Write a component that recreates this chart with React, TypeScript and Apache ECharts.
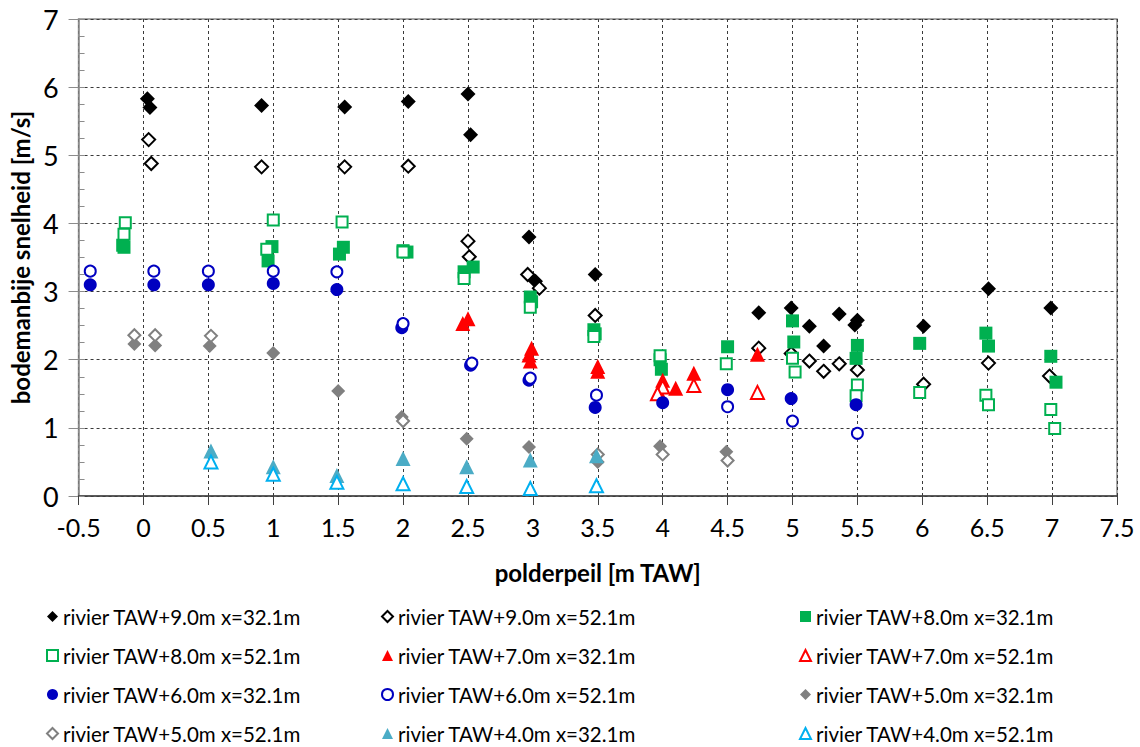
import React, { useEffect, useRef } from "react";
import * as echarts from "echarts";

const xTicks = { min: -0.5, max: 7.5, interval: 0.5 };
const yTicks = { min: 0, max: 7, interval: 1 };

const names = [
  "rivier TAW+9.0m x=32.1m",
  "rivier TAW+9.0m x=52.1m",
  "rivier TAW+8.0m x=32.1m",
  "rivier TAW+8.0m x=52.1m",
  "rivier TAW+7.0m x=32.1m",
  "rivier TAW+7.0m x=52.1m",
  "rivier TAW+6.0m x=32.1m",
  "rivier TAW+6.0m x=52.1m",
  "rivier TAW+5.0m x=32.1m",
  "rivier TAW+5.0m x=52.1m",
  "rivier TAW+4.0m x=32.1m",
  "rivier TAW+4.0m x=52.1m",
];

const s9_32 = [[0.03,5.83],[0.05,5.70],[0.91,5.73],[1.55,5.71],[2.04,5.79],[2.50,5.90],[2.52,5.30],[2.97,3.80],[3.02,3.15],[3.48,3.25],[4.74,2.69],[4.99,2.76],[5.13,2.49],[5.24,2.20],[5.36,2.67],[5.50,2.58],[5.48,2.51],[6.01,2.49],[6.51,3.04],[6.99,2.76]];
const s9_52 = [[0.04,5.23],[0.06,4.88],[0.91,4.83],[1.55,4.83],[2.04,4.84],[2.50,3.74],[2.51,3.51],[2.96,3.25],[3.05,3.05],[3.48,2.65],[4.74,2.17],[4.99,2.09],[5.13,1.98],[5.24,1.83],[5.36,1.94],[5.50,1.85],[6.01,1.64],[6.51,1.95],[6.98,1.76]];
const s8_32 = [[-0.16,3.68],[-0.15,3.65],[0.96,3.45],[0.99,3.66],[1.51,3.55],[1.54,3.65],[2.0,3.60],[2.03,3.58],[2.47,3.29],[2.54,3.36],[2.98,2.92],[2.99,2.85],[3.47,2.44],[3.48,2.38],[3.98,2.00],[3.99,1.86],[4.50,2.19],[5.00,2.57],[5.01,2.26],[5.50,2.21],[5.49,2.02],[5.98,2.24],[6.49,2.39],[6.51,2.20],[6.99,2.05],[7.03,1.67]];
const s8_52 = [[-0.14,4.01],[-0.15,3.84],[1.0,4.05],[0.95,3.62],[1.53,4.02],[2.0,3.58],[2.47,3.19],[2.98,2.77],[3.47,2.34],[3.98,2.06],[4.49,1.94],[5.0,2.02],[5.02,1.82],[5.50,1.63],[5.49,1.47],[5.98,1.52],[6.49,1.48],[6.51,1.34],[6.99,1.27],[7.02,0.99]];
const s7_32 = [[2.50,2.60],[2.46,2.53],[2.99,2.17],[2.97,2.07],[2.98,1.98],[3.50,1.90],[3.50,1.83],[4.0,1.70],[3.97,1.53],[4.10,1.58],[4.24,1.80],[4.73,2.08]];
const s7_52 = [[4.0,1.60],[3.96,1.50],[4.24,1.62],[4.73,1.52]];
const s6_32 = [[-0.41,3.10],[0.08,3.10],[0.50,3.10],[1.0,3.12],[1.49,3.03],[1.99,2.47],[2.52,1.92],[2.97,1.70],[3.48,1.30],[4.0,1.37],[4.50,1.56],[4.99,1.43],[5.49,1.34]];
const s6_52 = [[-0.41,3.30],[0.08,3.30],[0.50,3.30],[1.0,3.30],[1.49,3.29],[2.0,2.53],[2.53,1.95],[2.98,1.73],[3.49,1.48],[4.5,1.31],[5.0,1.10],[5.5,0.92]];
const s5_32 = [[-0.07,2.23],[0.09,2.21],[0.51,2.20],[1.0,2.10],[1.50,1.54],[1.99,1.16],[2.49,0.84],[2.97,0.72],[3.50,0.50],[3.98,0.73],[4.49,0.65]];
const s5_52 = [[-0.07,2.36],[0.09,2.36],[0.52,2.35],[2.0,1.10],[3.50,0.61],[4.0,0.61],[4.5,0.52]];
const s4_32 = [[0.52,0.66],[1.0,0.43],[1.49,0.30],[2.0,0.55],[2.49,0.43],[2.98,0.53],[3.49,0.59]];
const s4_52 = [[0.52,0.50],[1.0,0.32],[1.49,0.20],[2.0,0.18],[2.49,0.14],[2.98,0.11],[3.49,0.15]];

const seriesData = [s9_32, s9_52, s8_32, s8_52, s7_32, s7_52, s6_32, s6_52, s5_32, s5_52, s4_32, s4_52];

const styles = [
  { symbol: "diamond", color: "#000000", filled: true, size: 15 },
  { symbol: "diamond", color: "#000000", filled: false, size: 13 },
  { symbol: "rect", color: "#00B050", filled: true, size: 13 },
  { symbol: "rect", color: "#00B050", filled: false, size: 11 },
  { symbol: "triangle", color: "#FF0000", filled: true, size: 15 },
  { symbol: "triangle", color: "#FF0000", filled: false, size: 13 },
  { symbol: "circle", color: "#0000C0", filled: true, size: 13 },
  { symbol: "circle", color: "#0000C0", filled: false, size: 11 },
  { symbol: "diamond", color: "#808080", filled: true, size: 14 },
  { symbol: "diamond", color: "#808080", filled: false, size: 12 },
  { symbol: "triangle", color: "#4BACC6", filled: true, size: 15 },
  { symbol: "triangle", color: "#00B0F0", filled: false, size: 13 },
];

const FONT = "Lato, 'Noto Sans', sans-serif";

export default function App() {
  const ref = useRef<HTMLDivElement>(null);
  useEffect(() => {
    document.body.style.margin = "0";
    const chart = echarts.init(ref.current!, null, { renderer: "svg" });
    const series = seriesData.map((d, i) => {
      const st = styles[i];
      return {
        name: names[i],
        type: "scatter",
        data: d,
        symbol: st.symbol,
        symbolSize: st.size,
        itemStyle: st.filled
          ? { color: st.color, opacity: 1 }
          : { color: "#ffffff", borderColor: st.color, borderWidth: 2, opacity: 1 },
        z: 3 + i,
      };
    });
    const legendCols = [0, 1, 2].map((c) => ({
      show: true,
      orient: "vertical",
      left: [46, 381, 799][c],
      top: 606,
      padding: 0,
      itemGap: 18,
      itemWidth: 11,
      itemHeight: 11,
      textStyle: { fontFamily: FONT, fontSize: 20.5, color: "#000" },
      data: [0, 1, 2, 3].map((r) => names[r * 3 + c]),
    }));
    chart.setOption({
      animation: false,
      backgroundColor: "#ffffff",
      textStyle: { fontFamily: FONT },
      grid: {
        left: 77,
        right: 23,
        top: 19,
        bottom: 251,
        show: true,
        borderColor: "#8c8c8c",
        borderWidth: 1.5,
        containLabel: false,
      },
      legend: legendCols,
      xAxis: {
        type: "value",
        min: xTicks.min,
        max: xTicks.max,
        interval: xTicks.interval,
        name: "polderpeil [m TAW]",
        nameLocation: "middle",
        nameGap: 64,
        nameTextStyle: { fontFamily: FONT, fontSize: 24, fontWeight: "bold", color: "#000" },
        axisLine: { show: true, onZero: false, lineStyle: { color: "#404040", width: 1.5 } },
        axisTick: { show: true, length: 9, lineStyle: { color: "#404040" } },
        axisLabel: {
          fontFamily: FONT,
          fontSize: 25,
          color: "#000",
          margin: 18,
          formatter: (v: number) => String(v),
        },
        splitLine: { show: true, lineStyle: { color: "#3a3a3a", type: [3, 3], width: 1 } },
      },
      yAxis: [
        {
          type: "value",
          min: yTicks.min,
          max: yTicks.max,
          interval: yTicks.interval,
          name: "bodemanbije snelheid [m/s]",
          nameLocation: "middle",
          nameGap: 46,
          nameTextStyle: { fontFamily: FONT, fontSize: 24, fontWeight: "bold", color: "#000" },
          axisLine: { show: true, onZero: false, lineStyle: { color: "#8c8c8c", width: 1.5 } },
          axisTick: { show: true, length: 10, lineStyle: { color: "#8c8c8c" } },
          axisLabel: { fontFamily: FONT, fontSize: 27, color: "#000", margin: 20 },
          splitLine: { show: true, lineStyle: { color: "#3a3a3a", type: [3, 3], width: 1 } },
        },
        {
          type: "value",
          min: 0,
          max: 7,
          interval: 0.25,
          position: "left",
          axisLine: { show: false, onZero: false },
          axisTick: { show: true, inside: true, length: 6, lineStyle: { color: "#8c8c8c" } },
          axisLabel: { show: false },
          splitLine: { show: false },
        },
      ],
      series,
    });
    return () => chart.dispose();
  }, []);
  return <div ref={ref} style={{ width: 1140, height: 747 }} />;
}
